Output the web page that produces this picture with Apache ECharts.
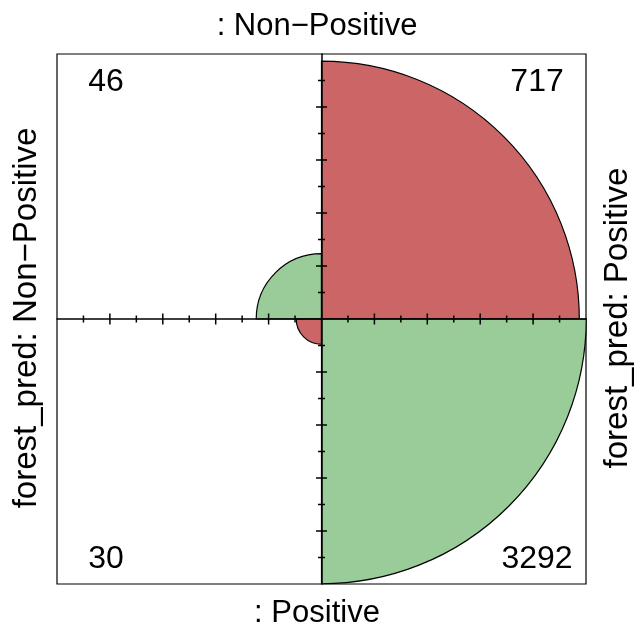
<!DOCTYPE html>
<html><head><meta charset="utf-8">
<script src="https://cdn.jsdelivr.net/npm/echarts@6/dist/echarts.min.js"></script>
<style>html,body{margin:0;padding:0;background:#fff}#c{width:634px;height:629px}</style>
</head><body><div id="c"></div>
<script>
// Fourfold table (rows: top, bottom; columns: left, right)
const topLabel = ': Non\u2212Positive';
const bottomLabel = ': Positive';
const leftLabel = 'forest_pred: Non\u2212Positive';
const rightLabel = 'forest_pred: Positive';
const topRowCounts = [46, 717];      // [left, right]
const bottomRowCounts = [30, 3292];  // [left, right]
const quadrantColors = { agree: '#99CC99', disagree: '#CC6666' };
// tick marks along each half-axis (standardized units), long ticks at majorTicks
const tickSteps = [0.1, 0.2, 0.3, 0.4, 0.5, 0.6, 0.7, 0.8, 0.9];
const majorTicks = [0.2, 0.4, 0.6, 0.8];

// standardize each row to sum 1, then scale so the largest cell = 1; radius = sqrt
const rows = [topRowCounts, bottomRowCounts];
const std = rows.map(r => { const s = r[0] + r[1]; return r.map(v => v / s); });
const mx = Math.max(...std.flat());
const radii = std.map(r => r.map(v => Math.sqrt(v / mx)));

const sectors = [
  { sx: -1, sy: 1, r: radii[0][0], n: topRowCounts[0], c: quadrantColors.agree, a0: -Math.PI, a1: -Math.PI / 2 },
  { sx: 1, sy: 1, r: radii[0][1], n: topRowCounts[1], c: quadrantColors.disagree, a0: -Math.PI / 2, a1: 0 },
  { sx: -1, sy: -1, r: radii[1][0], n: bottomRowCounts[0], c: quadrantColors.disagree, a0: Math.PI / 2, a1: Math.PI },
  { sx: 1, sy: -1, r: radii[1][1], n: bottomRowCounts[1], c: quadrantColors.agree, a0: 0, a1: Math.PI / 2 }
];

const tickData = [];
tickSteps.forEach(v => {
  const major = majorTicks.indexOf(v) >= 0 ? 1 : 0;
  tickData.push([v, 0, major], [-v, 0, major], [0, v, major], [0, -v, major]);
});

const FONT = 'Liberation Sans, Arial, Helvetica, sans-serif';
const FS = 31;

function axisCommon() {
  return {
    type: 'value', min: -1, max: 1, interval: 0.2, z: 10,
    axisLine: { show: true, onZero: true, lineStyle: { color: '#000', width: 1.5 } },
    axisTick: { show: false }, axisLabel: { show: false }, splitLine: { show: false }
  };
}

const chart = echarts.init(document.getElementById('c'), null, { renderer: 'canvas' });
chart.setOption({
  backgroundColor: '#fff',
  animation: false,
  grid: { show: true, left: 57, top: 54, width: 529, height: 530, borderColor: '#000', borderWidth: 1.2, backgroundColor: 'transparent' },
  xAxis: axisCommon(),
  yAxis: axisCommon(),
  graphic: [
    { type: 'text', left: 'center', top: 11, style: { text: topLabel, font: FS + 'px ' + FONT, fill: '#000' } },
    { type: 'text', left: 'center', top: 598, style: { text: bottomLabel, font: FS + 'px ' + FONT, fill: '#000' } },
    { type: 'text', x: 27, y: 318, rotation: Math.PI / 2, style: { text: leftLabel, font: '33px ' + FONT, fill: '#000', align: 'center', verticalAlign: 'middle' } },
    { type: 'text', x: 618, y: 318, rotation: Math.PI / 2, style: { text: rightLabel, font: '33px ' + FONT, fill: '#000', align: 'center', verticalAlign: 'middle' } }
  ],
  series: [{
    type: 'custom',
    coordinateSystem: 'cartesian2d',
    z: 2,
    data: sectors.map((s, i) => [i]),
    renderItem: function (params, api) {
      const s = sectors[api.value(0)];
      const c = api.coord([0, 0]);
      const r = api.size([s.r, s.r]);
      const rad = (r[0] + r[1]) / 2;
      const lp = api.coord([s.sx * 0.815, s.sy * 0.9]);
      return {
        type: 'group',
        children: [
          { type: 'sector', shape: { cx: c[0], cy: c[1], r0: 0, r: rad, startAngle: s.a0, endAngle: s.a1 },
            style: { fill: s.c, stroke: '#000', lineWidth: 1.2 } },
          { type: 'text', x: lp[0], y: lp[1] + 2,
            style: { text: String(s.n), font: '32px ' + FONT, fill: '#000',
                     align: 'center', verticalAlign: 'middle' } }
        ]
      };
    }
  }, {
    type: 'custom',
    coordinateSystem: 'cartesian2d',
    z: 20,
    data: tickData,
    renderItem: function (params, api) {
      const p = api.coord([api.value(0), api.value(1)]);
      const L = api.value(2) ? 5.5 : 3.5;
      const horizAxis = api.value(1) === 0;
      const shape = horizAxis
        ? { x1: p[0], y1: p[1] - L, x2: p[0], y2: p[1] + L }
        : { x1: p[0] - L, y1: p[1], x2: p[0] + L, y2: p[1] };
      return { type: 'line', shape: shape, style: { stroke: '#000', lineWidth: 1.5 } };
    }
  }]
});
</script></body></html>
